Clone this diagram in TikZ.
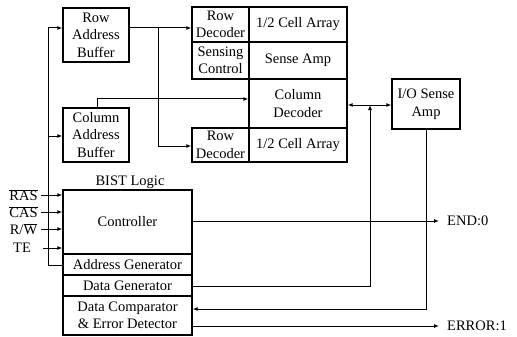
\documentclass[tikz,border=0pt]{standalone}
\usepackage{fontspec}
\setmainfont{Liberation Serif}
\usetikzlibrary{arrows.meta}
\begin{document}
\begin{tikzpicture}[x=1pt,y=-1pt,
  font=\fontsize{14.5}{17.5}\selectfont,
  blk/.style={draw, line width=1.3pt, inner sep=0pt, align=center},
  wire/.style={line width=1pt},
  arr/.style={wire, -{Latex[length=5pt,width=4pt]}},
  barr/.style={wire, {Latex[length=5pt,width=4pt]}-{Latex[length=5pt,width=4pt]}},
  lbl/.style={inner sep=0pt}]
\useasboundingbox (0,0) rectangle (517,337);

% address buffers
\node[blk, minimum width=66, minimum height=54] (rab) at (96,35) {Row\\Address\\Buffer};
\node[blk, minimum width=66, minimum height=54] (cab) at (96,135) {Column\\Address\\Buffer};

% memory array
\node[blk, minimum width=57, minimum height=35] (rd1) at (220.5,24.5) {Row\\Decoder};
\node[blk, minimum width=98, minimum height=35] (ca1) at (298,24.5) {1/2 Cell Array};
\node[blk, minimum width=57, minimum height=37] (sc) at (220.5,60.5) {Sensing\\Control};
\node[blk, minimum width=98, minimum height=37] (sa) at (298,60.5) {Sense Amp};
\node[blk, minimum width=98, minimum height=49] (cd) at (298,103.5) {Column\\Decoder};
\node[blk, minimum width=57, minimum height=34] (rd2) at (220.5,145) {Row\\Decoder};
\node[blk, minimum width=98, minimum height=34] (ca2) at (298,145) {1/2 Cell Array};

\node[blk, minimum width=68, minimum height=50] (io) at (426,104) {I/O Sense\\Amp};

% BIST logic
\node[lbl] (bist) at (130,182) {BIST Logic};
\node[blk, minimum width=129, minimum height=64] (ctrl) at (127.5,222) {Controller};
\node[blk, minimum width=129, minimum height=21] (ag) at (127.5,264.5) {Address Generator};
\node[blk, minimum width=129, minimum height=21] (dg) at (127.5,285.5) {Data Generator};
\node[blk, minimum width=129, minimum height=39] (dc) at (127.5,315.5) {Data Comparator\\\& Error Detector};

% external inputs
\node[lbl] (ras) at (23.5,195) {$\overline{\mbox{RAS}}$};
\node[lbl] (cas) at (23.5,212) {$\overline{\mbox{CAS}}$};
\node[lbl] (rw)  at (23.5,229) {R/$\overline{\mbox{W}}$};
\node[lbl] (te)  at (22,248) {TE};
\draw[arr] (41,195) -- (ctrl.west |- 0,195);
\draw[arr] (41,212) -- (ctrl.west |- 0,212);
\draw[arr] (41,229) -- (ctrl.west |- 0,229);
\draw[arr] (43,248) -- (ctrl.west |- 0,248);

% outputs
\node[lbl, anchor=west] (endo) at (447,221) {END:0};
\node[lbl, anchor=west] (err) at (447,326) {ERROR:1};
\draw[arr] (ctrl.east |- 0,221) -- ([xshift=-8pt]endo.west);
\draw[arr] (dc.east |- 0,326) -- ([xshift=-8pt]err.west);

% address generator to the address buffers
\coordinate (al) at (48,265);
\draw[wire] (ag.west |- al) -- (al) -- (48,28);
\draw[arr] (48,28) -- (rab.west |- 0,28);
\draw[arr] (48,136) -- (cab.west |- 0,136);

% row address to both row decoders
\draw[arr] (rab.east |- 0,28) -- (rd1.west |- 0,28);
\draw[arr] (158,28) -- (158,146) -- (rd2.west |- 0,146);

% column address to column decoder
\draw[arr] (97,108) -- (97,99) -- (cd.west |- 0,99);

% column decoder to I/O sense amp
\draw[barr] (cd.east |- 0,105) -- (io.west |- 0,105);

% data generator into the data path
\draw[arr] (dg.east |- 0,286) -- (370,286) -- (370,105);

% I/O sense amp to comparator
\draw[arr] (io.south) -- (426,309) -- (dc.east |- 0,309);
\end{tikzpicture}
\end{document}
